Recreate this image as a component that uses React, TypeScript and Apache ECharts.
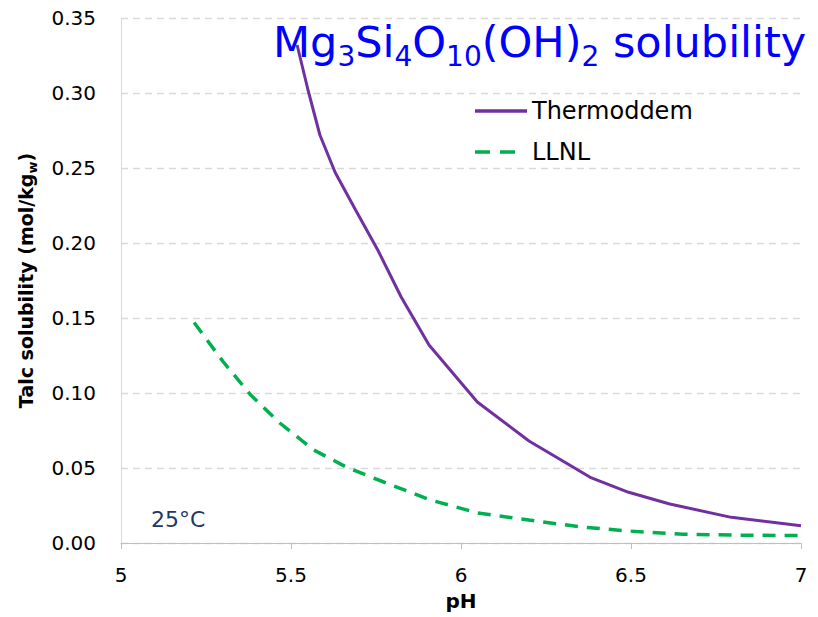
import React, { useEffect, useRef } from "react";
import * as echarts from "echarts";

const xTicks = [5, 5.5, 6, 6.5, 7];
const yTicks = [0, 0.05, 0.1, 0.15, 0.2, 0.25, 0.3, 0.35];

const thermoPH = [5.518, 5.55, 5.585, 5.63, 5.69, 5.756, 5.824, 5.906, 6.048, 6.2, 6.38, 6.493, 6.614, 6.795, 7.0];
const thermoVal = [0.332, 0.302, 0.272, 0.247, 0.222, 0.195, 0.164, 0.132, 0.094, 0.068, 0.0438, 0.0338, 0.026, 0.0171, 0.0115];

const llnlPH = [5.215, 5.3, 5.38, 5.467, 5.567, 5.668, 5.769, 5.909, 6.05, 6.2, 6.352, 6.493, 6.654, 6.795, 7.0];
const llnlVal = [0.147, 0.121, 0.099, 0.08, 0.062, 0.05, 0.041, 0.0287, 0.02, 0.0153, 0.0107, 0.008, 0.0058, 0.0053, 0.0049];

const seriesNames = ["Thermoddem", "LLNL"];

const FONT = "'DejaVu Sans', 'Liberation Sans', sans-serif";

export default function App() {
  const ref = useRef<HTMLDivElement>(null);
  useEffect(() => {
    if (!ref.current) return;
    const chart = echarts.init(ref.current, null, { renderer: "svg" });
    const thermo = thermoPH.map((p, i) => [p, thermoVal[i]]);
    const llnl = llnlPH.map((p, i) => [p, llnlVal[i]]);
    chart.setOption({
      animation: false,
      backgroundColor: "#ffffff",
      grid: { left: 121, top: 18, width: 680, height: 525, containLabel: false },
      xAxis: {
        type: "value",
        min: xTicks[0],
        max: xTicks[xTicks.length - 1],
        interval: 0.5,
        name: "pH",
        nameLocation: "middle",
        nameGap: 48,
        nameTextStyle: { fontFamily: FONT, fontWeight: "bold", fontSize: 20, color: "#000" },
        axisLine: { show: true, lineStyle: { color: "#BFBFBF", width: 1 } },
        axisTick: { show: true, length: 6, lineStyle: { color: "#BFBFBF" } },
        axisLabel: { fontFamily: FONT, fontSize: 20, color: "#000", margin: 22 },
        splitLine: { show: false },
      },
      yAxis: {
        type: "value",
        min: yTicks[0],
        max: yTicks[yTicks.length - 1],
        interval: 0.05,
        name: "{a|Talc solubility (mol/kg}{s|w}{a|)}",
        nameLocation: "middle",
        nameRotate: 90,
        nameGap: 82,
        nameTextStyle: {
          rich: {
            a: { fontFamily: FONT, fontWeight: "bold", fontSize: 19, color: "#000", lineHeight: 26, verticalAlign: "middle" },
            s: { fontFamily: FONT, fontWeight: "bold", fontSize: 13, color: "#000", lineHeight: 14, verticalAlign: "bottom" },
          },
        },
        axisLine: { show: true, lineStyle: { color: "#D9D9D9", width: 1 } },
        axisTick: { show: false },
        axisLabel: {
          fontFamily: FONT,
          fontSize: 20,
          color: "#000",
          margin: 25,
          formatter: (v: number) => v.toFixed(2),
        },
        splitLine: { show: true, lineStyle: { color: "#D9D9D9", type: [7, 5], width: 1.3 } },
      },
      legend: {
        data: [
          { name: seriesNames[0], icon: "path://M0,0h52v3.5h-52z" },
          { name: seriesNames[1], icon: "path://M0,0h15v3.5h-15z M25,0h15v3.5h-15z M52,0L52,3.5" },
        ],
        orient: "vertical",
        left: 470,
        top: 94,
        itemWidth: 52,
        itemHeight: 3.5,
        itemGap: 17,
        itemStyle: { borderWidth: 0 },
        textStyle: { fontFamily: FONT, fontSize: 24, color: "#000" },
      },
      graphic: [
        {
          type: "text",
          left: 273,
          top: 20,
          style: {
            text: "{a|Mg}{s|3}{a|Si}{s|4}{a|O}{s|10}{a|(OH)}{s|2}{a| solubility}",
            rich: {
              a: { fontFamily: FONT, fontSize: 43, fill: "#0000FF", lineHeight: 58, verticalAlign: "middle" },
              s: { fontFamily: FONT, fontSize: 28, fill: "#0000FF", lineHeight: 26, verticalAlign: "bottom" },
            },
          },
        },
        {
          type: "text",
          left: 151,
          top: 508,
          style: { text: "25°C", fontFamily: FONT, fontSize: 22, fill: "#1F3864" },
        },
      ],
      series: [
        {
          name: seriesNames[0],
          type: "line",
          data: thermo,
          symbol: "none",
          lineStyle: { color: "#7030A0", width: 3 },
          itemStyle: { color: "#7030A0" },
        },
        {
          name: seriesNames[1],
          type: "line",
          data: llnl,
          symbol: "none",
          lineStyle: { color: "#00B050", width: 3.5, type: [13, 9] },
          itemStyle: { color: "#00B050" },
        },
      ],
    });
    return () => chart.dispose();
  }, []);
  return <div ref={ref} style={{ position: "fixed", left: 0, top: 0, width: 818, height: 617 }} />;
}
